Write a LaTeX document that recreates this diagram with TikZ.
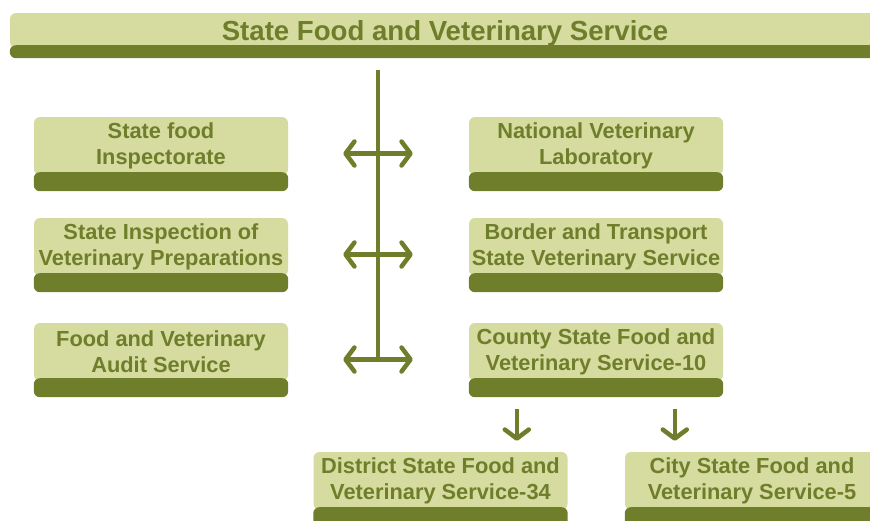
\documentclass[tikz,border=0pt]{standalone}
\usepackage{fontspec}
\setmainfont{Liberation Sans}
\usepackage{xcolor}
\usetikzlibrary{arrows.meta, positioning}

\definecolor{olivelight}{RGB}{214,219,160}
\definecolor{olivedark}{RGB}{110,126,42}

\begin{document}
\begin{tikzpicture}[x=1pt, y=-1pt,
        unit/.style={rectangle, rounded corners=6pt, fill=olivelight, minimum width=254pt, minimum height=58pt, inner xsep=1pt, align=center, text=olivedark, font=\fontsize{21.8}{26}\selectfont\bfseries},
        bandfill/.style={fill=olivedark, rounded corners=6pt},
        linkarrow/.style={olivedark, line width=4.5pt, {Straight Barb[length=9pt,width=24pt,round]}-{Straight Barb[length=9pt,width=24pt,round]}},
        downarrow/.style={olivedark, line width=4.5pt, -{Straight Barb[length=9pt,width=24pt,round]}}]

        \clip (0,0) rectangle (870,520);

        % Head office banner
        \node[rectangle, rounded corners=6pt, fill=olivelight, minimum width=870pt, minimum height=35pt, text depth=0pt, text=olivedark, font=\fontsize{27.6}{32}\selectfont\bfseries] (sfvs) at (445,30.5) {State Food and Veterinary Service};
        \fill[bandfill] ([yshift=3pt]sfvs.south west) rectangle ([yshift=-10pt]sfvs.south east);

        % Units on both sides of the spine
        \node[unit] (sfi) at (161,146) {State food\\Inspectorate};
        \node[unit] (nvl) at (596,146) {National Veterinary\\Laboratory};
        \node[unit] (sivp) at (161,247) {State Inspection of\\Veterinary Preparations};
        \node[unit] (btsvs) at (596,247) {Border and Transport\\State Veterinary Service};
        \node[unit] (fvas) at (161,352) {Food and Veterinary\\Audit Service};
        \node[unit] (csfvs) at (596,352) {County State Food and\\Veterinary Service-10};

        % Local units
        \node[unit] (dsfvs) at (440.5,481) {District State Food and\\Veterinary Service-34};
        \node[unit] (citysfvs) at (752,481) {City State Food and\\Veterinary Service-5};

        % Dark bands under the units
        \foreach \n in {sfi, nvl, sivp, btsvs, fvas, csfvs, dsfvs, citysfvs}
            \fill[bandfill] ([yshift=3pt]\n.south west) rectangle ([yshift=-16pt]\n.south east);

        % Spine
        \coordinate (spinebot) at (378,360);
        \draw[olivedark, line width=4.5pt, shorten <=22pt] (sfvs.south -| spinebot) -- (spinebot);

        % Two-way links
        \draw[linkarrow, shorten <=55pt, shorten >=56pt] ([yshift=-7.5pt]sfi.east) -- ([yshift=-7.5pt]nvl.west);
        \draw[linkarrow, shorten <=55pt, shorten >=56pt] ([yshift=-7.5pt]sivp.east) -- ([yshift=-7.5pt]btsvs.west);
        \draw[linkarrow, shorten <=55pt, shorten >=56pt] ([yshift=-7.5pt]fvas.east) -- ([yshift=-7.5pt]csfvs.west);

        % Down to local units
        \draw[downarrow, shorten <=28pt, shorten >=11pt] ([xshift=48pt]csfvs.south west) -- ([xshift=48pt]csfvs.south west |- dsfvs.north);
        \draw[downarrow, shorten <=28pt, shorten >=11pt] ([xshift=50pt]citysfvs.north west |- csfvs.south) -- ([xshift=50pt]citysfvs.north west);

\end{tikzpicture}
\end{document}
